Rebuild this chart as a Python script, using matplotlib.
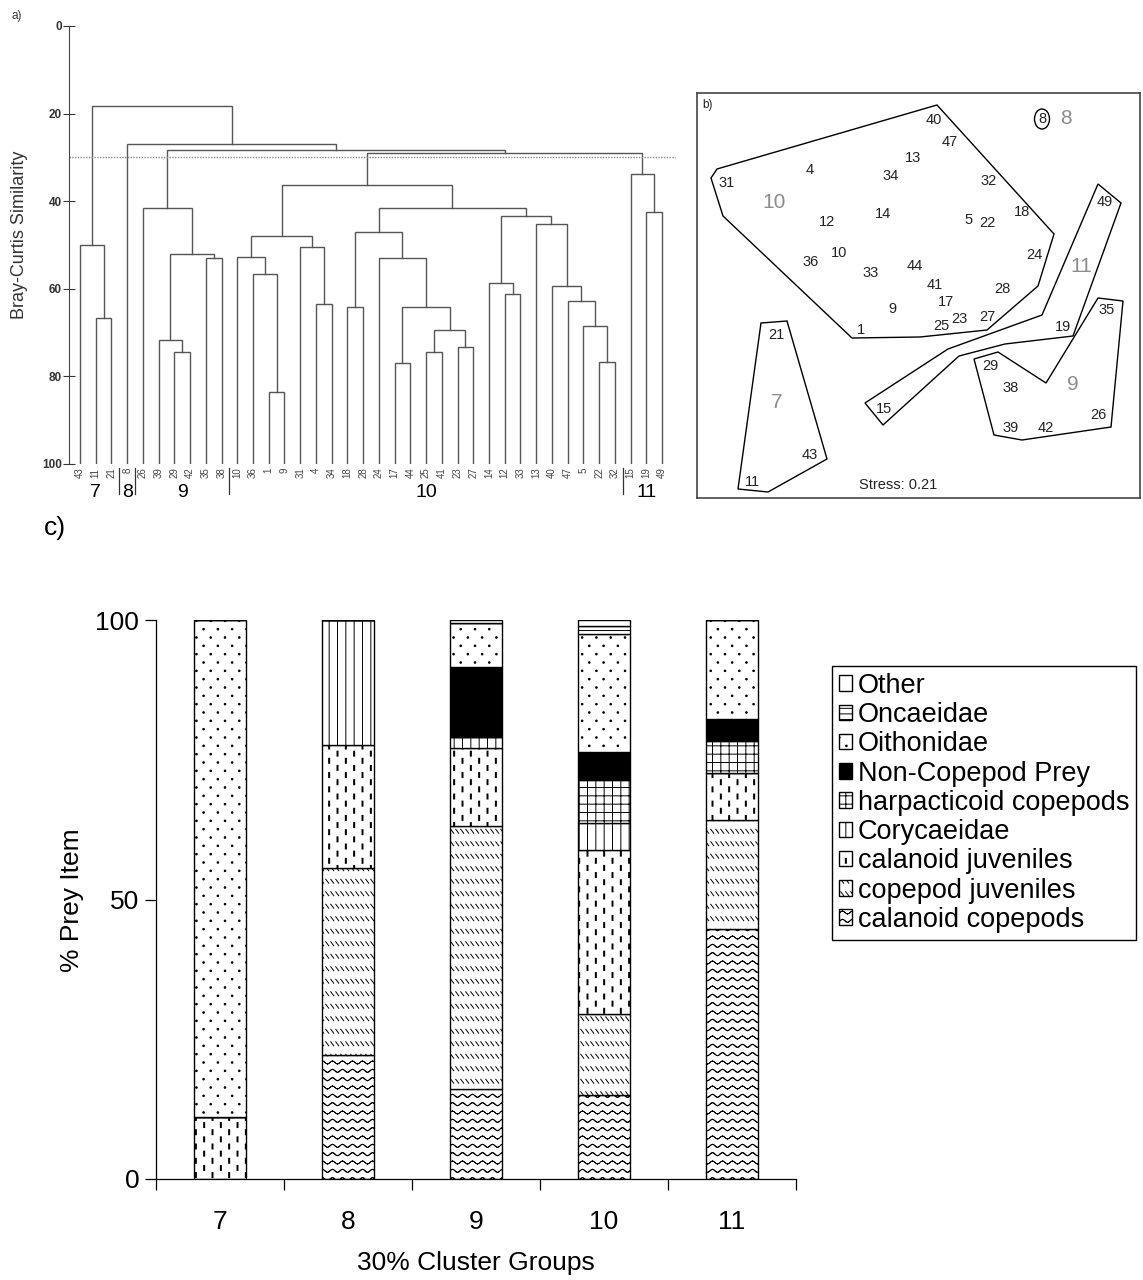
import warnings
import numpy as np
import matplotlib
matplotlib.use("Agg")
import matplotlib.pyplot as plt
from matplotlib import hatch as mhatch
from matplotlib.path import Path
from matplotlib.patches import Polygon, Ellipse

warnings.filterwarnings("ignore")
plt.rcParams['font.family'] = ['Liberation Sans', 'DejaVu Sans']
plt.rcParams['hatch.linewidth'] = 0.7

# ---------------- a) cluster dendrogram ----------------
dendro_leaves = ["43", "11", "21", "8", "26", "39", "29", "42", "35", "38",
                 "10", "36", "1", "9", "31", "4", "34", "18", "28", "24",
                 "17", "44", "25", "41", "23", "27", "14", "12", "33", "13",
                 "40", "47", "5", "22", "32", "15", "19", "49"]
# merges, bottom-up: node "m<k>" joins merge_left[k-1] and merge_right[k-1]
merge_left = ["11", "43", "29", "39", "35", "m4", "26", "1", "36", "10",
              "4", "31", "m10", "18", "17", "25", "23", "m16", "m15", "24",
              "m14", "12", "14", "22", "5", "47", "40", "13", "m23", "m21",
              "m13", "19", "15", "m31", "m7", "8", "m2"]
merge_right = ["21", "m1", "42", "m3", "38", "m5", "m6", "9", "m8", "m9",
               "34", "m11", "m12", "28", "44", "41", "27", "m17", "m18", "m19",
               "m20", "33", "m22", "32", "m24", "m25", "m26", "m27", "m28", "m29",
               "m30", "49", "m32", "m33", "m34", "m35", "m36"]
merge_sim = [66.7, 50.0, 74.5, 71.6, 52.9, 52.1, 41.5, 83.6, 56.7, 52.8,
             63.5, 50.5, 47.9, 64.1, 77.0, 74.5, 73.3, 69.3, 64.2, 53.0,
             47.0, 61.1, 58.7, 76.6, 68.6, 62.8, 59.4, 45.1, 43.4, 41.6,
             36.2, 42.5, 33.8, 29.0, 28.3, 27.0, 18.3]
cluster_names = ["7", "8", "9", "10", "11"]
cluster_sizes = [3, 1, 6, 25, 3]
cut_level = 30

# ---------------- b) MDS ordination ----------------
mds_labels = ["40", "47", "13", "34", "4", "31", "32", "12", "14", "5",
              "22", "18", "24", "10", "36", "33", "44", "41", "28", "17",
              "9", "1", "25", "23", "27", "19", "35", "49", "21", "29",
              "38", "15", "39", "42", "26", "43", "11", "8"]
mds_x = [244, 260, 223, 201, 120, 37, 299, 137, 193, 279,
         297, 332, 344, 149, 121, 181, 225, 245, 312, 256,
         202, 171, 251, 269, 297, 373, 417, 415, 86, 300,
         321, 194, 321, 356, 408, 120, 62, 352]
mds_y = [30, 52, 68, 86, 80, 93, 91, 132, 124, 130,
         133, 122, 165, 163, 172, 183, 176, 195, 199, 212,
         219, 240, 236, 229, 227, 237, 220, 112, 245, 276,
         298, 319, 338, 338, 325, 365, 392, 29]
group_label_x = [87, 376, 383, 84, 391]
group_label_y = [313, 29, 295, 113, 177]
hull_7 = [(71, 233), (97, 231), (137, 369), (78, 402), (48, 399)]
hull_9 = [(408, 208), (433, 211), (421, 337), (332, 350), (304, 345),
          (284, 269), (308, 262), (356, 293)]
hull_10 = [(247, 15), (364, 144), (348, 196), (297, 240), (230, 247),
           (162, 248), (33, 126), (21, 88), (27, 79)]
hull_11 = [(408, 94), (431, 113), (383, 246), (315, 254), (269, 266),
           (193, 335), (175, 313), (258, 259), (352, 225)]
stress = 0.21

# ---------------- c) diet composition ----------------
groups = ["7", "8", "9", "10", "11"]
prey_items = ["calanoid copepods", "copepod juveniles", "calanoid juveniles",
              "Corycaeidae", "harpacticoid copepods", "Non-Copepod Prey",
              "Oithonidae", "Oncaeidae", "Other"]
calanoid_copepods = [0.0, 22.2, 16.1, 15.0, 44.7]
copepod_juveniles = [0.0, 33.5, 47.0, 14.5, 19.5]
calanoid_juveniles = [11.1, 22.0, 14.0, 29.3, 8.4]
corycaeidae = [0.0, 22.3, 1.9, 4.9, 0.0]
harpacticoid_copepods = [0.0, 0.0, 0.0, 7.7, 5.8]
non_copepod_prey = [0.0, 0.0, 12.6, 5.0, 3.9]
oithonidae = [88.9, 0.0, 7.9, 21.1, 17.7]
oncaeidae = [0.0, 0.0, 0.0, 1.5, 0.0]
other = [0.0, 0.0, 0.5, 1.0, 0.0]


# ---------------- custom fill textures ----------------
class _Texture(mhatch.HatchPatternBase):
    key = None

    def __init__(self, hatch, density):
        if self.key in hatch:
            self._v, self._c = self._build()
            self.num_vertices = len(self._v)
        else:
            self.num_vertices = 0

    def set_vertices_and_codes(self, vertices, codes):
        vertices[:] = self._v
        codes[:] = self._c


def _segments(segs):
    v = np.asarray(segs, float).reshape(-1, 2)
    c = np.tile([Path.MOVETO, Path.LINETO], len(segs)).astype(Path.code_type)
    return v, c


class SparseDots(_Texture):
    key = 'p'

    def _build(self):
        circ = Path.unit_circle()
        verts, codes = [], []
        ncol, nrow, r = 7, 12, 0.008
        for j in range(nrow):
            y = (j + 0.5) / nrow
            shift = 0.5 if j % 2 else 0.0
            for i in range(ncol):
                x = (i + 0.25 + shift) / ncol
                verts.append(circ.vertices * r + [x, y])
                codes.append(circ.codes)
        return np.concatenate(verts), np.concatenate(codes)


class VerticalDashes(_Texture):
    key = 'j'

    def _build(self):
        ncol, nrow, L, w = 12, 7, 0.05, 0.005
        verts, codes = [], []
        for i in range(ncol):
            x = (i + 0.5) / ncol
            off = 0.5 if i % 2 else 0.0
            for j in range(nrow):
                y0 = (j + off) / nrow + 0.01
                verts.append([(x - w, y0), (x + w, y0), (x + w, y0 + L),
                              (x - w, y0 + L), (x - w, y0)])
                codes.append([Path.MOVETO, Path.LINETO, Path.LINETO,
                              Path.LINETO, Path.CLOSEPOLY])
        return (np.asarray(verts, float).reshape(-1, 2),
                np.asarray(codes, Path.code_type).ravel())


class DiagonalDashes(_Texture):
    key = 'k'

    def _build(self):
        nrow, ncol = 8, 20
        segs = []
        for j in range(nrow):
            y = (j + 0.5) / nrow
            for i in range(ncol):
                x = (i + 0.15) / ncol
                segs.append([(x, y + 0.02), (x + 0.03, y - 0.02)])
        return _segments(segs)


class Waves(_Texture):
    key = 'w'

    def _build(self):
        nrow, nper, nseg, amp = 12, 10, 8, 0.015
        t = np.linspace(0, 1, nper * nseg + 1)
        segs = []
        for j in range(nrow):
            yc = (j + 0.5) / nrow
            y = yc + amp * np.sin(2 * np.pi * nper * t)
            for k in range(len(t) - 1):
                segs.append([(t[k], y[k]), (t[k + 1], y[k + 1])])
        return _segments(segs)


mhatch._hatch_types.extend([SparseDots, VerticalDashes, DiagonalDashes, Waves])

W, H = 1143, 1280
fig = plt.figure(figsize=(W / 100, H / 100), dpi=100)
fig.patch.set_facecolor('white')


def px_box(left, top, right, bottom):
    return [left / W, 1 - bottom / H, (right - left) / W, (bottom - top) / H]


# ======== a) dendrogram ========
ax_a = fig.add_axes(px_box(69, 26, 680, 464))
leaf_pos = {lab: (i, 100.0) for i, lab in enumerate(dendro_leaves)}
line_col = '#555555'
for k, (a, b, s) in enumerate(zip(merge_left, merge_right, merge_sim), start=1):
    xa, ha = leaf_pos[a]
    xb, hb = leaf_pos[b]
    ax_a.plot([xa, xa, xb, xb], [ha, s, s, hb], color=line_col, lw=1.0,
              solid_joinstyle='miter')
    leaf_pos[f"m{k}"] = ((xa + xb) / 2, s)

x_right = (680 - 80) / 15.73
ax_a.set_xlim(-11 / 15.73, x_right)
ax_a.set_ylim(100, 0)
ax_a.axhline(cut_level, xmin=0, xmax=(675 - 69) / 611, color='#8a8a8a',
             lw=1.0, ls=(0, (1, 1)))
for s in ['top', 'right', 'bottom']:
    ax_a.spines[s].set_visible(False)
ax_a.spines['left'].set_color('#444444')
ax_a.set_xticks([])
ax_a.set_yticks([0, 20, 40, 60, 80, 100])
ax_a.tick_params(axis='y', direction='inout', length=8.5, width=0.8,
                 pad=1, labelsize=8.5, colors='#333333')
for lbl in ax_a.get_yticklabels():
    lbl.set_fontweight('bold')

for i, lab in enumerate(dendro_leaves):
    ax_a.text(i, 100.8, lab, rotation=90, ha='center', va='top',
              fontsize=7, color='#444444', clip_on=False)
start = 0
for name, n in zip(cluster_names, cluster_sizes):
    centre = start + (n - 1) / 2
    ax_a.text(centre, 106.6, name, ha='center', va='center', fontsize=14,
              clip_on=False)
    start += n
for b in np.cumsum(cluster_sizes)[:-1]:
    ax_a.plot([b - 0.5, b - 0.5], [100.8, 106.9], color='#333333',
              lw=0.9, clip_on=False)
fig.text(20 / W, 1 - 235 / H, "Bray-Curtis Similarity", rotation=90,
         ha='center', va='center', fontsize=13, color='#333333')
fig.text(12 / W, 1 - 16 / H, "a)", ha='left', va='center', fontsize=8.5,
         color='#333333')

# ======== b) MDS ========
ax_b = fig.add_axes(px_box(697, 93, 1140, 498))
ax_b.set_xlim(7, 450)
ax_b.set_ylim(408, 3)
ax_b.set_xticks([])
ax_b.set_yticks([])
for s in ax_b.spines.values():
    s.set_color('#444444')
    s.set_linewidth(1.2)
for hull in (hull_7, hull_9, hull_10, hull_11):
    ax_b.add_patch(Polygon(hull, closed=True, fill=False, edgecolor='black',
                           lw=1.0))
for lab, x, y in zip(mds_labels, mds_x, mds_y):
    ax_b.text(x, y, lab, ha='center', va='center', fontsize=10.5,
              color='#222222')
ax_b.add_patch(Ellipse((mds_x[-1], mds_y[-1]), 15, 20, fill=False,
                       edgecolor='black', lw=1.0))
for name, x, y in zip(cluster_names, group_label_x, group_label_y):
    ax_b.text(x, y, name, ha='center', va='center', fontsize=15,
              color='#8c8c8c')
ax_b.text(208, 395, f"Stress: {stress:.2f}", ha='center', va='center',
          fontsize=10.5, color='#222222')
ax_b.text(12, 15, "b)", ha='left', va='center', fontsize=8.5,
          color='#222222')

# ======== c) stacked bars ========
ax_c = fig.add_axes(px_box(156, 620, 796, 1179))
series = [calanoid_copepods, copepod_juveniles, calanoid_juveniles,
          corycaeidae, harpacticoid_copepods, non_copepod_prey,
          oithonidae, oncaeidae, other]
textures = ['w', 'k', 'j', '||', '++', None, 'p', '---', None]
faces = ['white'] * 5 + ['black'] + ['white'] * 3
x = np.arange(len(groups))
bottom = np.zeros(len(groups))
handles = []
for name, vals, tex, fc in zip(prey_items, series, textures, faces):
    vals = np.asarray(vals)
    bars = ax_c.bar(x, vals, width=0.4, bottom=bottom, facecolor=fc,
                    edgecolor='black', linewidth=1.0, hatch=tex, label=name)
    handles.append(bars)
    bottom += vals

ax_c.set_xlim(-0.5, 4.5)
ax_c.set_ylim(0, 100)
ax_c.set_yticks([0, 50, 100])
ax_c.set_xticks(x)
ax_c.set_xticklabels(groups)
ax_c.set_xticks(np.arange(-0.5, 5, 1), minor=True)
ax_c.tick_params(axis='x', which='major', length=0, pad=22, labelsize=19)
ax_c.tick_params(axis='x', which='minor', length=8, width=0.9,
                 direction='out')
ax_c.tick_params(axis='y', length=8, width=0.9, direction='out', pad=4,
                 labelsize=19)
for s in ['top', 'right']:
    ax_c.spines[s].set_visible(False)
for s in ['left', 'bottom']:
    ax_c.spines[s].set_linewidth(0.9)
fig.text(72 / W, 1 - 900 / H, "% Prey Item", rotation=90, ha='center',
         va='center', fontsize=19)
fig.text(476 / W, 1 - 1263 / H, "30% Cluster Groups", ha='center',
         va='center', fontsize=19)
fig.text(44 / W, 1 - 528 / H, "c)", ha='left', va='center', fontsize=19)

leg = fig.legend(handles=handles[::-1], labels=prey_items[::-1],
                 loc='upper left', bbox_to_anchor=(832 / W, 1 - 666 / H),
                 fontsize=19.5, frameon=True, fancybox=False, framealpha=1,
                 edgecolor='black', handlelength=0.5, handleheight=0.5,
                 handletextpad=0.2, labelspacing=0.12, borderpad=0.25,
                 borderaxespad=0)
leg.get_frame().set_linewidth(1.0)

fig.savefig("out.png", dpi=100, facecolor='white')
